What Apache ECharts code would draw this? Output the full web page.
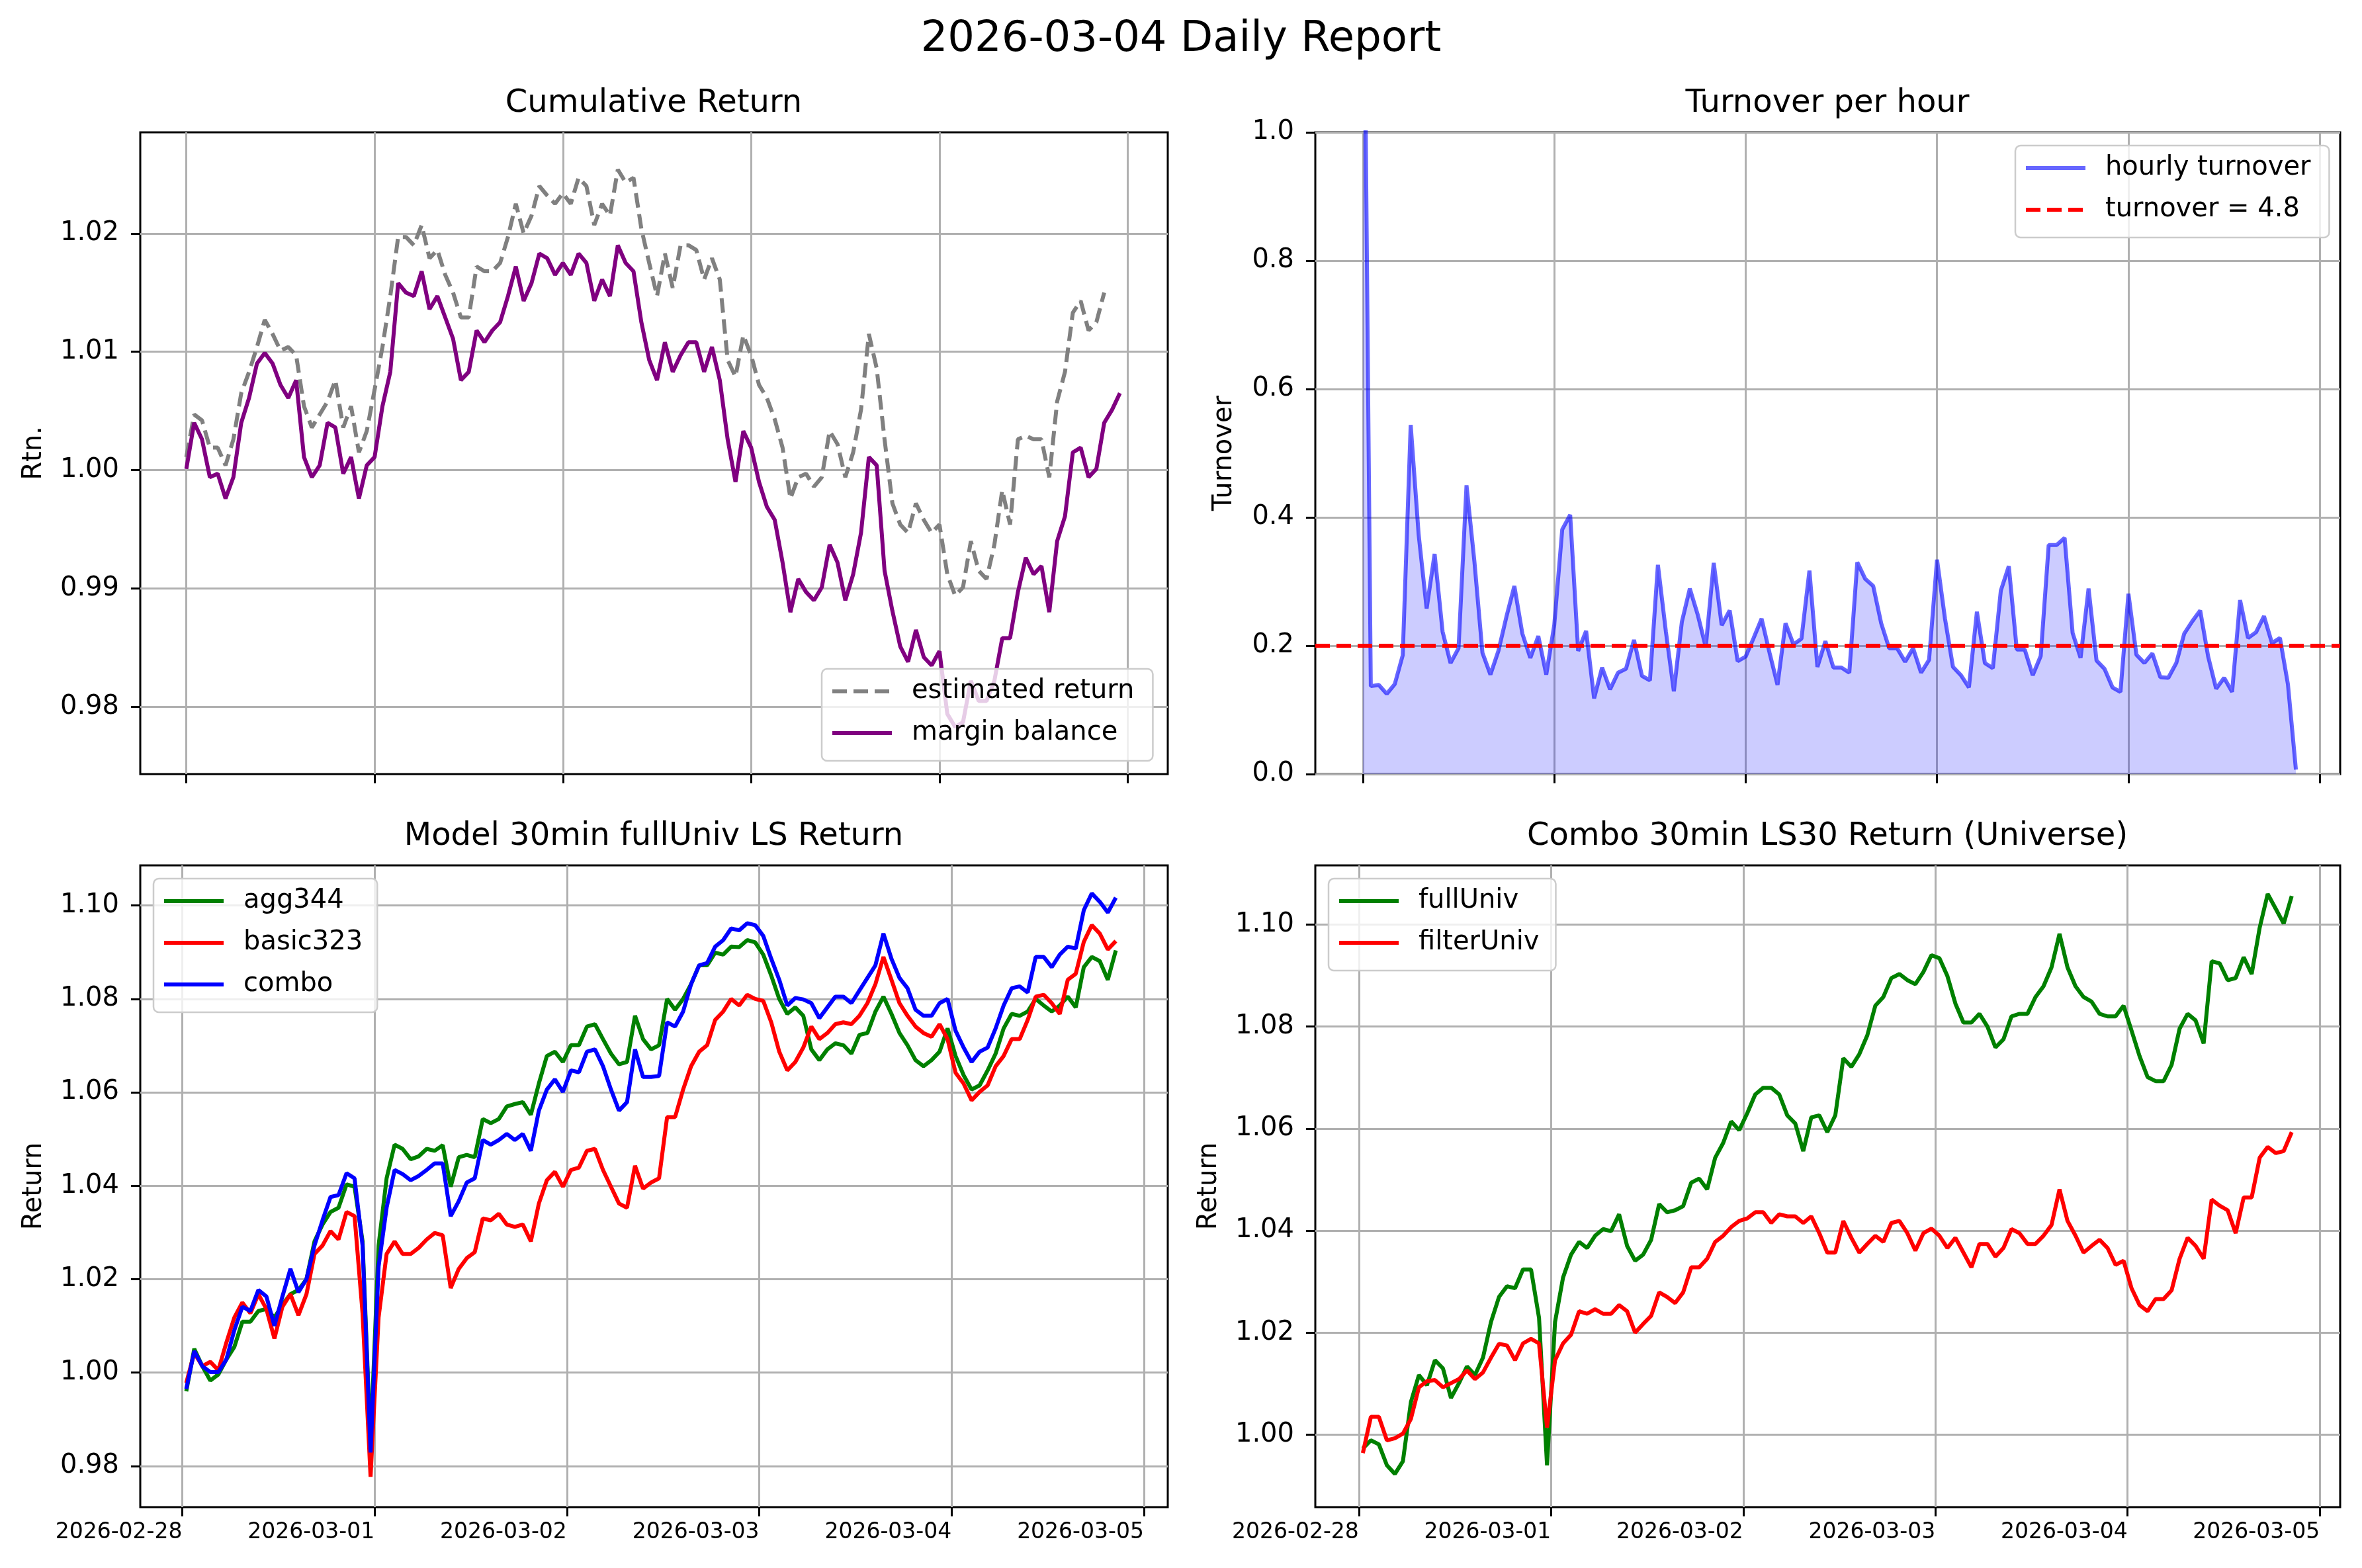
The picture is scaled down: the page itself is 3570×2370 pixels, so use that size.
<!DOCTYPE html>
<html>
<head>
<meta charset="utf-8">
<script src="https://cdn.jsdelivr.net/npm/echarts@6.0.0/dist/echarts.min.js"></script>
<style>
  html, body { margin: 0; padding: 0; background: #fff; }
  #main { width: 3570px; height: 2370px; }
</style>
</head>
<body>
<div id="main"></div>
<script>
// ---- data ----
var dayTicks = ['2026-02-28', '2026-03-01', '2026-03-02', '2026-03-03', '2026-03-04', '2026-03-05'];

// cumulative return, hourly from 2026-02-28 00:00
var estimatedReturn = [1.0011,1.0047,1.0042,1.0019,1.0019,1.0004,1.0026,1.0065,1.0083,1.0104,
  1.0127,1.0115,1.0101,1.0104,1.0097,1.0054,1.0036,1.0047,1.0058,1.0076,
  1.0036,1.0054,1.0015,1.0033,1.0068,1.0104,1.0147,1.0197,1.0197,1.0190,
  1.0207,1.0179,1.0186,1.0165,1.0150,1.0129,1.0129,1.0172,1.0168,1.0168,
  1.0175,1.0197,1.0225,1.0200,1.0215,1.0240,1.0232,1.0225,1.0234,1.0225,
  1.0247,1.0240,1.0207,1.0225,1.0215,1.0254,1.0243,1.0247,1.0204,1.0175,
  1.0147,1.0183,1.0154,1.0190,1.0190,1.0186,1.0161,1.0179,1.0161,1.0093,
  1.0079,1.0114,1.0097,1.0072,1.0061,1.0043,1.0019,0.9976,0.9994,0.9997,
  0.9986,0.9994,1.0033,1.0022,0.9994,1.0015,1.0051,1.0115,1.0086,1.0026,
  0.9972,0.9954,0.9947,0.9972,0.9958,0.9947,0.9954,0.9912,0.9894,0.9901,
  0.9940,0.9915,0.9908,0.9937,0.9983,0.9954,1.0026,1.0029,1.0026,1.0026,
  0.9994,1.0058,1.0083,1.0133,1.0143,1.0118,1.0125,1.0150];
var marginBalance = [1.0001,1.0040,1.0026,0.9994,0.9997,0.9976,0.9994,1.0040,1.0061,1.0090,
  1.0099,1.0090,1.0072,1.0061,1.0076,1.0011,0.9994,1.0004,1.0040,1.0036,
  0.9997,1.0011,0.9976,1.0004,1.0011,1.0054,1.0083,1.0158,1.0150,1.0147,
  1.0168,1.0136,1.0147,1.0129,1.0111,1.0076,1.0083,1.0118,1.0108,1.0118,
  1.0125,1.0147,1.0172,1.0143,1.0158,1.0183,1.0179,1.0165,1.0175,1.0165,
  1.0183,1.0175,1.0143,1.0161,1.0147,1.0190,1.0175,1.0168,1.0125,1.0093,
  1.0076,1.0108,1.0083,1.0097,1.0108,1.0108,1.0083,1.0104,1.0076,1.0026,
  0.9990,1.0033,1.0019,0.9990,0.9969,0.9958,0.9922,0.9880,0.9908,0.9897,
  0.9890,0.9901,0.9937,0.9922,0.9890,0.9912,0.9947,1.0011,1.0004,0.9915,
  0.9881,0.9851,0.9838,0.9865,0.9842,0.9835,0.9847,0.9794,0.9783,0.9787,
  0.9822,0.9805,0.9805,0.9822,0.9858,0.9858,0.9897,0.9926,0.9912,0.9919,
  0.9880,0.9940,0.9961,1.0015,1.0019,0.9994,1.0001,1.0040,1.0051,1.0065];

// hourly turnover, from 2026-02-28 00:00
var hourlyTurnover = [1.5,0.137,0.139,0.125,0.140,0.185,0.544,0.373,0.258,0.343,
  0.222,0.173,0.196,0.450,0.330,0.189,0.155,0.192,0.245,0.293,
  0.219,0.181,0.215,0.155,0.232,0.381,0.404,0.192,0.223,0.118,
  0.166,0.132,0.158,0.164,0.209,0.153,0.146,0.326,0.222,0.129,
  0.237,0.289,0.248,0.198,0.329,0.232,0.255,0.176,0.183,0.212,
  0.242,0.189,0.139,0.235,0.202,0.211,0.317,0.167,0.207,0.166,
  0.166,0.158,0.330,0.304,0.293,0.235,0.196,0.196,0.175,0.196,
  0.158,0.178,0.334,0.242,0.167,0.154,0.135,0.253,0.173,0.165,
  0.286,0.324,0.194,0.194,0.154,0.184,0.357,0.357,0.368,0.220,
  0.181,0.289,0.177,0.164,0.135,0.128,0.281,0.186,0.173,0.188,
  0.151,0.150,0.173,0.219,0.238,0.255,0.183,0.133,0.150,0.128,
  0.271,0.212,0.221,0.246,0.204,0.212,0.140,0.007];
var turnoverTarget = 0.2;

// model LS returns, hourly from 2026-02-28 00:30
var agg344 = [0.9960,1.0051,1.0014,0.9983,0.9996,1.0028,1.0055,1.0109,1.0109,1.0132,
  1.0136,1.0118,1.0145,1.0168,1.0177,1.0200,1.0281,1.0317,1.0344,1.0353,
  1.0403,1.0398,1.0281,0.9847,1.0272,1.0416,1.0488,1.0479,1.0457,1.0463,
  1.0479,1.0475,1.0487,1.0398,1.0461,1.0466,1.0461,1.0543,1.0534,1.0543,
  1.0570,1.0575,1.0579,1.0552,1.0619,1.0678,1.0687,1.0665,1.0701,1.0701,
  1.0741,1.0746,1.0714,1.0683,1.0660,1.0665,1.0764,1.0714,1.0692,1.0701,
  1.0800,1.0777,1.0800,1.0832,1.0872,1.0872,1.0899,1.0895,1.0912,1.0911,
  1.0926,1.0921,1.0895,1.0850,1.0800,1.0768,1.0782,1.0764,1.0692,1.0669,
  1.0692,1.0705,1.0701,1.0683,1.0723,1.0727,1.0773,1.0805,1.0768,1.0727,
  1.0701,1.0669,1.0656,1.0669,1.0687,1.0737,1.0678,1.0637,1.0606,1.0615,
  1.0647,1.0683,1.0737,1.0768,1.0764,1.0773,1.0800,1.0786,1.0773,1.0786,
  1.0805,1.0782,1.0868,1.0890,1.0881,1.0841,1.0904];
var basic323 = [0.9978,1.0042,1.0014,1.0023,1.0005,1.0064,1.0118,1.0150,1.0127,1.0168,
  1.0136,1.0073,1.0141,1.0168,1.0123,1.0168,1.0254,1.0272,1.0303,1.0285,
  1.0344,1.0335,1.0127,0.9777,1.0118,1.0254,1.0281,1.0254,1.0254,1.0267,
  1.0285,1.0299,1.0294,1.0181,1.0222,1.0245,1.0258,1.0330,1.0326,1.0340,
  1.0317,1.0312,1.0317,1.0281,1.0362,1.0412,1.0430,1.0398,1.0434,1.0439,
  1.0475,1.0479,1.0434,1.0398,1.0362,1.0353,1.0443,1.0394,1.0407,1.0416,
  1.0547,1.0547,1.0606,1.0656,1.0687,1.0701,1.0755,1.0773,1.0800,1.0786,
  1.0809,1.0800,1.0796,1.0750,1.0687,1.0647,1.0665,1.0696,1.0741,1.0714,
  1.0727,1.0746,1.0750,1.0746,1.0764,1.0791,1.0832,1.0890,1.0841,1.0791,
  1.0764,1.0741,1.0727,1.0719,1.0746,1.0714,1.0642,1.0619,1.0583,1.0601,
  1.0615,1.0656,1.0678,1.0714,1.0714,1.0755,1.0805,1.0809,1.0791,1.0768,
  1.0841,1.0854,1.0922,1.0958,1.0940,1.0906,1.0924];
var combo = [0.9965,1.0046,1.0014,1.0001,1.0001,1.0028,1.0091,1.0141,1.0132,1.0177,
  1.0163,1.0100,1.0163,1.0222,1.0172,1.0200,1.0272,1.0326,1.0376,1.0380,
  1.0427,1.0416,1.0272,0.9829,1.0227,1.0353,1.0434,1.0425,1.0412,1.0421,
  1.0434,1.0448,1.0448,1.0335,1.0367,1.0407,1.0416,1.0498,1.0488,1.0498,
  1.0511,1.0498,1.0511,1.0475,1.0561,1.0606,1.0628,1.0601,1.0647,1.0643,
  1.0687,1.0692,1.0656,1.0606,1.0561,1.0579,1.0692,1.0633,1.0633,1.0635,
  1.0750,1.0741,1.0773,1.0832,1.0872,1.0877,1.0912,1.0926,1.0951,1.0947,
  1.0962,1.0958,1.0935,1.0886,1.0841,1.0786,1.0802,1.0799,1.0791,1.0759,
  1.0782,1.0805,1.0805,1.0791,1.0818,1.0845,1.0872,1.0940,1.0886,1.0845,
  1.0823,1.0777,1.0764,1.0764,1.0791,1.0800,1.0732,1.0696,1.0665,1.0687,
  1.0696,1.0737,1.0786,1.0823,1.0827,1.0814,1.0890,1.0890,1.0868,1.0895,
  1.0912,1.0908,1.0990,1.1026,1.1008,1.0985,1.1017];

// combo LS30 by universe, hourly from 2026-02-28 00:30
var fullUniv = [0.9973,0.9989,0.9981,0.9940,0.9923,0.9948,1.0064,1.0117,1.0097,1.0146,
  1.0130,1.0072,1.0101,1.0134,1.0117,1.0151,1.0221,1.0270,1.0291,1.0287,
  1.0324,1.0324,1.0229,0.9940,1.0221,1.0308,1.0353,1.0378,1.0366,1.0390,
  1.0403,1.0399,1.0432,1.0370,1.0341,1.0353,1.0382,1.0452,1.0436,1.0440,
  1.0448,1.0494,1.0502,1.0481,1.0543,1.0572,1.0614,1.0597,1.0630,1.0667,
  1.0680,1.0680,1.0667,1.0626,1.0610,1.0556,1.0622,1.0626,1.0593,1.0626,
  1.0738,1.0721,1.0746,1.0783,1.0841,1.0858,1.0895,1.0903,1.0891,1.0883,
  1.0907,1.0940,1.0934,1.0899,1.0845,1.0808,1.0808,1.0825,1.0800,1.0759,
  1.0775,1.0820,1.0825,1.0825,1.0858,1.0879,1.0916,1.0982,1.0916,1.0879,
  1.0858,1.0849,1.0825,1.0820,1.0820,1.0841,1.0792,1.0742,1.0701,1.0693,
  1.0693,1.0725,1.0796,1.0825,1.0812,1.0767,1.0928,1.0924,1.0891,1.0895,
  1.0936,1.0903,1.0994,1.1060,1.1031,1.1002,1.1056];
var filterUniv = [0.9964,1.0035,1.0035,0.9989,0.9993,1.0002,1.0031,1.0093,1.0105,1.0107,
  1.0093,1.0101,1.0109,1.0126,1.0109,1.0122,1.0151,1.0178,1.0175,1.0146,
  1.0179,1.0188,1.0179,1.0014,1.0146,1.0179,1.0196,1.0242,1.0237,1.0246,
  1.0237,1.0237,1.0254,1.0242,1.0200,1.0217,1.0233,1.0279,1.0270,1.0258,
  1.0279,1.0328,1.0328,1.0345,1.0378,1.0390,1.0407,1.0419,1.0424,1.0436,
  1.0436,1.0415,1.0432,1.0428,1.0428,1.0415,1.0428,1.0395,1.0357,1.0357,
  1.0419,1.0386,1.0357,1.0374,1.0390,1.0378,1.0415,1.0419,1.0395,1.0361,
  1.0395,1.0404,1.0390,1.0366,1.0386,1.0357,1.0328,1.0374,1.0374,1.0349,
  1.0366,1.0403,1.0395,1.0374,1.0374,1.0390,1.0411,1.0481,1.0419,1.0390,
  1.0357,1.0370,1.0382,1.0366,1.0333,1.0341,1.0287,1.0254,1.0242,1.0266,
  1.0266,1.0283,1.0345,1.0386,1.0370,1.0345,1.0461,1.0449,1.0440,1.0395,
  1.0465,1.0465,1.0543,1.0564,1.0552,1.0556,1.0593];

// tick labels
var rtnTicks = [0.98, 0.99, 1.00, 1.01, 1.02];
var turnoverTicks = [0, 0.2, 0.4, 0.6, 0.8, 1.0];
var modelTicks = [0.98, 1.00, 1.02, 1.04, 1.06, 1.08, 1.10];
var univTicks = [1.00, 1.02, 1.04, 1.06, 1.08, 1.10];

// ---- helpers ----
var HOUR = 3600 * 1000;
var T0 = Date.UTC(2026, 1, 28);
var FONT = '"DejaVu Sans", sans-serif';
var GRID_COLOR = '#b0b0b0';

var dayValues = dayTicks.map(function (s) {
    var p = s.split('-');
    return Date.UTC(+p[0], +p[1] - 1, +p[2]);
});

function pad2(n) { return (n < 10 ? '0' : '') + n; }
function fmtDay(v) {
    var d = new Date(v);
    return d.getUTCFullYear() + '-' + pad2(d.getUTCMonth() + 1) + '-' + pad2(d.getUTCDate());
}

// pair values with hourly timestamps starting at offsetH hours after T0
function hourly(values, offsetH) {
    return values.map(function (v, i) {
        return [T0 + (offsetH + i) * HOUR, v];
    });
}

// timestamps on a plain value axis, ticks only at midnights
function xAxisFor(gridIndex, minH, maxH, showLabels) {
    return {
        type: 'value', gridIndex: gridIndex,
        min: T0 + minH * HOUR, max: T0 + maxH * HOUR,
        axisLine: {show: false},
        axisTick: {show: true, customValues: dayValues, length: 14, lineStyle: {color: '#000', width: 3}},
        axisLabel: {
            show: showLabels, customValues: dayValues, formatter: fmtDay,
            fontSize: 33, fontFamily: FONT, color: '#000', align: 'right', margin: 22
        },
        splitLine: {show: true, lineStyle: {color: GRID_COLOR, width: 3}}
    };
}

function yAxisFor(gridIndex, min, max, ticks, digits) {
    return {
        type: 'value', gridIndex: gridIndex, min: min, max: max,
        axisLine: {show: false},
        axisTick: {show: true, customValues: ticks, length: 14, lineStyle: {color: '#000', width: 3}},
        axisLabel: {
            customValues: ticks,
            formatter: function (v) { return v.toFixed(digits); },
            fontSize: 40, fontFamily: FONT, color: '#000', margin: 32
        },
        splitLine: {show: true, lineStyle: {color: GRID_COLOR, width: 3}}
    };
}

// legend with plain line handles (symbol hidden)
function legendFor(names, left, top, padRight) {
    return {
        data: names, orient: 'vertical', left: left, top: top,
        selectedMode: false,
        itemWidth: 90, itemHeight: 20, itemGap: 19,
        itemStyle: {opacity: 0},
        lineStyle: {width: 6},
        padding: [12, padRight, 20, 13],
        textStyle: {fontSize: 40, lineHeight: 44, fontFamily: FONT, color: '#000', padding: [0, 0, 0, 25]},
        borderColor: '#cccccc', borderWidth: 2.5, borderRadius: 8,
        backgroundColor: 'rgba(255,255,255,0.8)'
    };
}

function lineSeries(name, data, xi, color, extra) {
    var s = {
        name: name, type: 'line', xAxisIndex: xi, yAxisIndex: xi,
        data: data, symbol: 'none', animation: false,
        lineStyle: {color: color, width: 6},
        itemStyle: {color: color}
    };
    for (var k in extra) s[k] = extra[k];
    return s;
}

function text(str, x, y, size, rotate) {
    return {
        type: 'text', x: x, y: y, rotation: rotate ? Math.PI / 2 : 0,
        style: {
            text: str, fontSize: size, fontFamily: FONT, fill: '#000',
            align: 'center', verticalAlign: 'middle',
            textAlign: 'center', textVerticalAlign: 'middle'
        }
    };
}

// ---- chart ----
var chart = echarts.init(document.getElementById('main'));

var grids = [
    {left: 212, top: 200, width: 1553, height: 970},
    {left: 1988, top: 200, width: 1549, height: 970},
    {left: 212, top: 1308, width: 1553, height: 970},
    {left: 1988, top: 1308, width: 1549, height: 970}
].map(function (g) {
    g.show = true; g.borderColor = '#000'; g.borderWidth = 3; g.backgroundColor = 'transparent';
    return g;
});

var dash = [22, 10];

var option = {
    backgroundColor: '#fff',
    animation: false,
    grid: grids,
    xAxis: [
        xAxisFor(0, -5.87, 125.1, false),
        xAxisFor(1, -5.96, 122.55, false),
        xAxisFor(2, -5.24, 122.98, true),
        xAxisFor(3, -5.44, 122.55, true)
    ],
    yAxis: [
        yAxisFor(0, 0.97432, 1.02854, rtnTicks, 2),
        yAxisFor(1, 0, 1, turnoverTicks, 1),
        yAxisFor(2, 0.9712, 1.1086, modelTicks, 2),
        yAxisFor(3, 0.9858, 1.1116, univTicks, 2)
    ],
    legend: [
        legendFor(['estimated return', 'margin balance'], 1242, 1011, 28),
        legendFor(['hourly turnover', 'turnover = 4.8'], 3046, 220, 28),
        legendFor(['agg344', 'basic323', 'combo'], 232, 1328, 22),
        legendFor(['fullUniv', 'filterUniv'], 2008, 1328, 25)
    ],
    graphic: [
        text('2026-03-04 Daily Report', 1785, 60, 64),
        text('Cumulative Return', 988, 157, 48),
        text('Turnover per hour', 2762, 157, 48),
        text('Model 30min fullUniv LS Return', 988, 1265, 48),
        text('Combo 30min LS30 Return (Universe)', 2762, 1265, 48),
        text('Rtn.', 52, 685, 40, true),
        text('Turnover', 1851, 685, 40, true),
        text('Return', 52, 1793, 40, true),
        text('Return', 1828, 1793, 40, true)
    ],
    series: [
        lineSeries('estimated return', hourly(estimatedReturn, 0), 0, '#808080',
            {lineStyle: {color: '#808080', width: 6, type: dash}}),
        lineSeries('margin balance', hourly(marginBalance, 0), 0, '#800080'),

        lineSeries('hourly turnover', hourly(hourlyTurnover, 0), 1, 'rgba(0,0,255,0.6)',
            {areaStyle: {color: 'rgba(0,0,255,0.2)', opacity: 1}}),
        lineSeries('turnover = 4.8', [], 1, '#ff0000', {
            lineStyle: {color: '#ff0000', width: 6, type: dash},
            markLine: {
                silent: true, symbol: 'none', animation: false,
                label: {show: false},
                lineStyle: {color: '#ff0000', width: 6, type: dash},
                data: [{yAxis: turnoverTarget}]
            }
        }),

        lineSeries('agg344', hourly(agg344, 0.5), 2, '#008000'),
        lineSeries('basic323', hourly(basic323, 0.5), 2, '#ff0000'),
        lineSeries('combo', hourly(combo, 0.5), 2, '#0000ff'),

        lineSeries('fullUniv', hourly(fullUniv, 0.5), 3, '#008000'),
        lineSeries('filterUniv', hourly(filterUniv, 0.5), 3, '#ff0000')
    ]
};

chart.setOption(option);
</script>
</body>
</html>
